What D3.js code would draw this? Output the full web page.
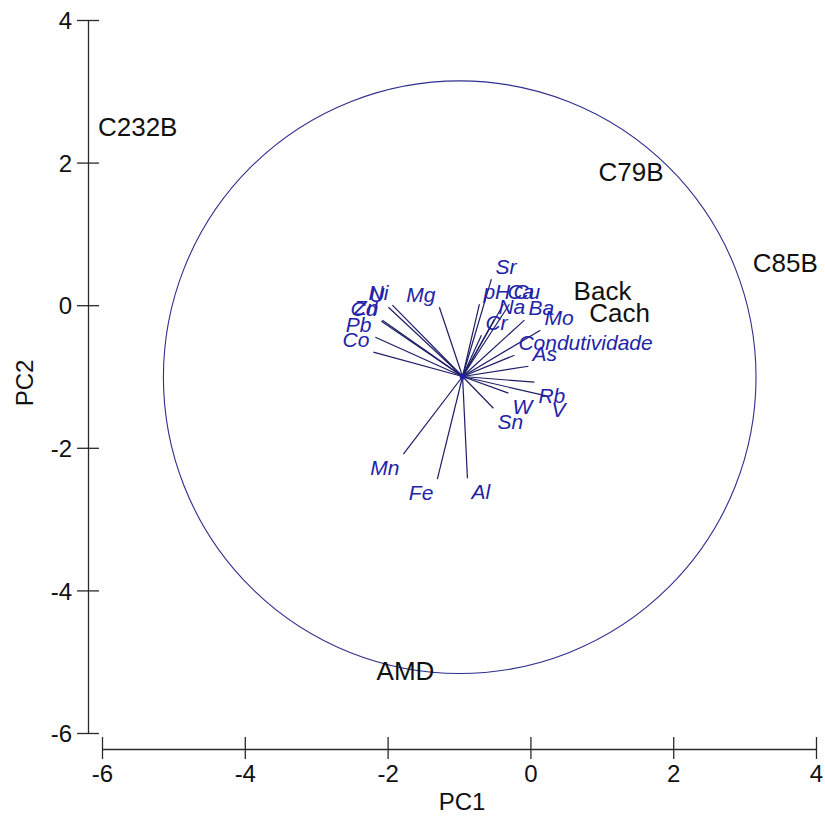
<!DOCTYPE html>
<html>
<head>
<meta charset="utf-8">
<script src="https://cdn.jsdelivr.net/npm/d3@7"></script>
<style>
  html, body { margin: 0; padding: 0; background: #fff; }
  svg { display: block; }
</style>
</head>
<body>
<svg id="chart" width="825" height="825"></svg>
<script>
// Axis ticks
const xTicks = [-6, -4, -2, 0, 2, 4];
const yTicks = [-6, -4, -2, 0, 2, 4];

// Sample scores (PC1, PC2)
const sampleNames = ["C232B", "C79B", "C85B", "Back", "Cach", "AMD"];
const sampleX = [-5.50, 1.41, 3.57, 1.01, 1.25, -1.75];
const sampleY = [2.50, 1.87, 0.60, 0.21, -0.11, -5.12];

// Variable loadings: arrow tips in PC1/PC2 units
const varNames = ["Sr", "pH", "Ca", "Cu", "Na", "Ba", "Cr", "Mo", "Condutividade", "As",
                  "Rb", "V", "W", "Sn", "Mn", "Fe", "Al", "Mg", "Ni", "U", "Zn", "Cd", "Pb", "Co"];
const varX = [-0.546, -0.714, -0.378, -0.294, -0.504, -0.084, -0.686, 0.140, -0.224, -0.028,
              0.056, 0.238, -0.308, -0.518, -1.779, -1.303, -0.882, -1.275, -1.933, -1.989, -2.073, -2.087, -2.171, -2.199];
const varY = [0.365, 0.014, 0.014, 0.014, -0.196, -0.210, -0.421, -0.351, -0.701, -0.856,
              -1.080, -1.276, -1.234, -1.445, -2.090, -2.440, -2.426, -0.028, 0.000, -0.028, -0.210, -0.224, -0.449, -0.659];

// Common origin of the loading arrows, and the equilibrium circle
const arrowOrigin = [-0.95, -1.0];
const circleCenter = [-0.99, -1.01];
const circleRadius = 4.15;

const svg = d3.select("#chart");
const FONT = "'Liberation Sans', Arial, sans-serif";
const AXIS_COL = "#2a2a2a";
const LINE_COL = "#1d1d66";
const LABEL_COL = "#2323a8";
const fmt = d => String(d); // plain hyphen for negative ticks

const x = d3.scaleLinear().domain([-6, 4]).range([102, 816]);
const y = d3.scaleLinear().domain([-6, 4]).range([733, 20]);

// X axis, drawn a little below the plotting area
const gx = svg.append("g").attr("transform", "translate(0,749)")
  .call(d3.axisBottom(x).tickValues(xTicks).tickFormat(fmt).tickSize(0).tickSizeOuter(0).tickPadding(0));
gx.select(".domain").attr("stroke", AXIS_COL).attr("stroke-width", 1.3);
gx.selectAll(".tick line").attr("y1", -12).attr("y2", 10).attr("stroke", AXIS_COL).attr("stroke-width", 1.3);
gx.selectAll(".tick text").attr("y", 16).attr("dy", "0.72em")
  .attr("font-family", FONT).attr("font-size", 24).attr("fill", "#111");

// Y axis, drawn a little left of the plotting area
const gy = svg.append("g").attr("transform", "translate(88,0)")
  .call(d3.axisLeft(y).tickValues(yTicks).tickFormat(fmt).tickSize(0).tickSizeOuter(0).tickPadding(0));
gy.select(".domain").attr("stroke", AXIS_COL).attr("stroke-width", 1.3);
gy.selectAll(".tick line").attr("x1", -11).attr("x2", 11).attr("stroke", AXIS_COL).attr("stroke-width", 1.3);
gy.selectAll(".tick text").attr("x", -16).attr("dy", "0.36em")
  .attr("font-family", FONT).attr("font-size", 24).attr("fill", "#111");

// Axis titles
svg.append("text").attr("x", 462).attr("y", 810).attr("text-anchor", "middle")
  .attr("font-family", FONT).attr("font-size", 24).attr("fill", "#111").text("PC1");
svg.append("text").attr("transform", "translate(33,383) rotate(-90)").attr("text-anchor", "middle")
  .attr("font-family", FONT).attr("font-size", 24).attr("fill", "#111").text("PC2");

// Circle
svg.append("circle")
  .attr("cx", x(circleCenter[0])).attr("cy", y(circleCenter[1]))
  .attr("r", x(circleCenter[0] + circleRadius) - x(circleCenter[0]))
  .attr("fill", "none").attr("stroke", "#2e2e8c").attr("stroke-width", 1.1);

// Loading arrows
const vars = varNames.map((n, i) => ({ name: n, x: varX[i], y: varY[i] }));
const ox = x(arrowOrigin[0]), oy = y(arrowOrigin[1]);

svg.append("g").selectAll("line").data(vars).join("line")
  .attr("x1", ox).attr("y1", oy)
  .attr("x2", d => x(d.x)).attr("y2", d => y(d.y))
  .attr("stroke", LINE_COL).attr("stroke-width", 1.2);

svg.append("circle").attr("cx", ox).attr("cy", oy).attr("r", 3).attr("fill", "#1f1fb0");

// Variable labels: the corner of the label nearest the arrow sits at the arrow tip
svg.append("g").selectAll("text").data(vars).join("text")
  .attr("x", d => x(d.x) + (d.x >= arrowOrigin[0] ? 4 : -4))
  .attr("y", d => y(d.y) + (d.y >= arrowOrigin[1] ? -5 : 21))
  .attr("text-anchor", d => d.x >= arrowOrigin[0] ? "start" : "end")
  .attr("font-family", FONT).attr("font-size", 21).attr("font-style", "italic")
  .attr("fill", LABEL_COL)
  .text(d => d.name);

// Sample labels, centred on their scores
const samples = sampleNames.map((n, i) => ({ name: n, x: sampleX[i], y: sampleY[i] }));
svg.append("g").selectAll("text").data(samples).join("text")
  .attr("x", d => x(d.x)).attr("y", d => y(d.y))
  .attr("dy", "0.36em").attr("text-anchor", "middle")
  .attr("font-family", FONT).attr("font-size", 26).attr("fill", "#111")
  .text(d => d.name);
</script>
</body>
</html>
